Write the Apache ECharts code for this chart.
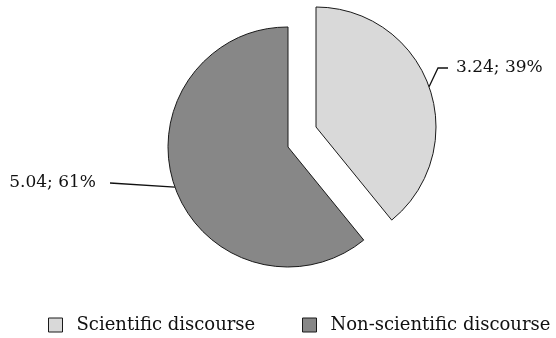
<!DOCTYPE html>
<html>
<head>
<meta charset="utf-8">
<style>
  html, body { margin: 0; padding: 0; background: #fff; }
  #chart { width: 556px; height: 338px; }
</style>
<script src="https://cdn.jsdelivr.net/npm/echarts@6/dist/echarts.min.js"></script>
</head>
<body>
<div id="chart"></div>
<script>
// Discourse categories and their values
const categories = ['Scientific discourse', 'Non-scientific discourse'];
const values = [3.24, 5.04];

const FONT = '"DejaVu Serif", serif';
const sliceColors = ['#d9d9d9', '#878787'];
const edge = { borderColor: '#1a1a1a', borderWidth: 1 };

// A placeholder slice keeps the angular layout of the full pie while staying invisible
function placeholder(i) {
  return {
    name: '__gap' + i,
    value: values[i],
    itemStyle: { color: 'rgba(0,0,0,0)', borderWidth: 0 },
    label: { show: false },
    labelLine: { show: false },
    emphasis: { disabled: true }
  };
}

function visible(i) {
  return {
    name: categories[i],
    value: values[i],
    itemStyle: Object.assign({ color: sliceColors[i] }, edge)
  };
}

const labelStyle = {
  show: true,
  formatter: '{c}; {d}%',
  fontFamily: FONT,
  fontSize: 17,
  color: '#111'
};
const lineStyle = { show: true, lineStyle: { color: '#111', width: 1.3 } };

const legendText = { fontFamily: FONT, fontSize: 18, color: '#111', padding: [0, 0, 0, 9] };

const chart = echarts.init(document.getElementById('chart'), null, { renderer: 'canvas' });

chart.setOption({
  animation: false,
  backgroundColor: '#fff',
  legend: [
    {
      data: [categories[0]],
      left: 48, top: 316, padding: 0,
      icon: 'rect', itemWidth: 14, itemHeight: 14,
      itemStyle: edge,
      textStyle: legendText,
      selectedMode: false
    },
    {
      data: [categories[1]],
      left: 302, top: 316, padding: 0,
      icon: 'rect', itemWidth: 14, itemHeight: 14,
      itemStyle: edge,
      textStyle: legendText,
      selectedMode: false
    }
  ],
  series: [
    {
      // exploded slice
      type: 'pie',
      center: [316, 127],
      radius: [0, 120],
      startAngle: 90,
      clockwise: true,
      percentPrecision: 0,
      avoidLabelOverlap: false,
      label: labelStyle,
      labelLine: lineStyle,
      labelLayout: function (p) {
        if (p.dataIndex !== 0) return {};
        const s = p.labelLinePoints ? p.labelLinePoints[0] : [429, 87];
        return {
          x: 456, y: 68, align: 'left', verticalAlign: 'middle',
          labelLinePoints: [s, [438, 68], [448, 68]]
        };
      },
      emphasis: { disabled: true },
      data: [visible(0), placeholder(1)]
    },
    {
      type: 'pie',
      center: [288, 147],
      radius: [0, 120],
      startAngle: 90,
      clockwise: true,
      percentPrecision: 0,
      avoidLabelOverlap: false,
      label: labelStyle,
      labelLine: lineStyle,
      labelLayout: function (p) {
        if (p.dataIndex !== 1) return {};
        const s = p.labelLinePoints ? p.labelLinePoints[0] : [175, 187];
        return {
          x: 96, y: 183, align: 'right', verticalAlign: 'middle',
          labelLinePoints: [s, [110, 183], [110, 183]]
        };
      },
      emphasis: { disabled: true },
      data: [placeholder(0), visible(1)]
    }
  ]
});
</script>
</body>
</html>
